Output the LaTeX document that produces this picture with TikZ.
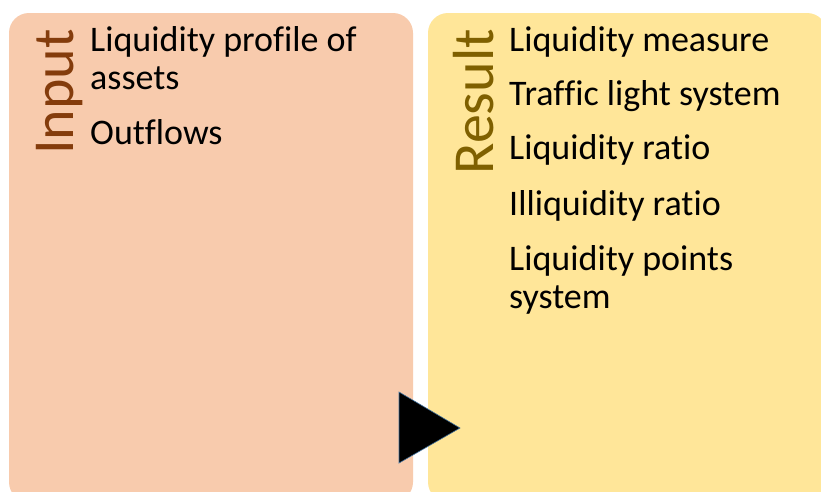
\documentclass[tikz,border=0pt]{standalone}
\usepackage{fontspec}
\setmainfont{Carlito}[RawFeature={-liga;-clig;-dlig;-calt}]
\definecolor{inputfill}{HTML}{F8CBAD}
\definecolor{resultfill}{HTML}{FFE699}
\definecolor{inputtext}{HTML}{843C0C}
\definecolor{resulttext}{HTML}{7F6000}
\definecolor{triedge}{HTML}{41719C}
\tikzset{
  panel/.style={rounded corners=20pt},
  item/.style={anchor=base west, inner sep=0pt, font=\fontsize{36}{40}\selectfont, text=black},
  title/.style={anchor=base east, inner sep=0pt, rotate=90, font=\fontsize{58}{62}\selectfont},
}
\begin{document}
\begin{tikzpicture}[x=1pt,y=-1pt]
\useasboundingbox (0,0) rectangle (821,491);
\clip (0,0) rectangle (821,491);
\fill[white] (0,0) rectangle (821,491);
% panels
\fill[inputfill, panel] (9,13) rectangle (413,502);
\fill[resultfill, panel] (428,13) rectangle (827,502);
% titles
\node[title, text=inputtext] (inputlbl) at (73,29) {Input};
\node[title, text=resulttext] (resultlbl) at (493,29) {Result};
% input items
\node[item] (in1a) at (90,51) {Liquidity profile of};
\node[item] (in1b) at (90,89) {assets};
\node[item] (in2) at (90,144) {Outflows};
% result items
\node[item] (r1) at (509,51) {Liquidity measure};
\node[item] (r2) at (509,105) {Traf\kern0ptf\kern0ptic light system};
\node[item] (r3) at (509,159) {Liquidity rat\kern0ptio};
\node[item] (r4) at (509,215) {Illiquidity rat\kern0ptio};
\node[item] (r5a) at (509,270) {Liquidity points};
\node[item] (r5b) at (509,308) {system};
% arrow triangle
\filldraw[fill=black, draw=triedge, line width=0.6pt] (399,392) -- (399,463) -- (460,428) -- cycle;
\end{tikzpicture}
\end{document}
